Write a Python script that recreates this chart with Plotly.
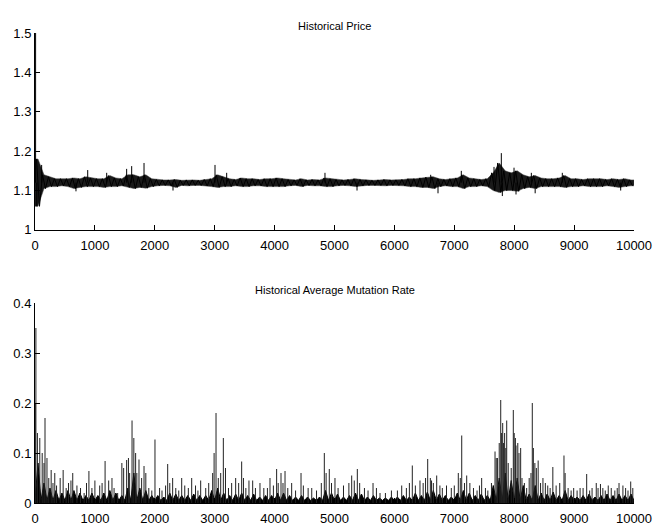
import plotly.graph_objects as go
from plotly.subplots import make_subplots

# ---------------- data ----------------
steps_max = 10000
bin_width = 100

# Historical price: per-100-step band (upper / lower) and isolated spikes
price_hi = [1.18, 1.14, 1.135, 1.13, 1.13, 1.13, 1.132, 1.13, 1.135, 1.132,
            1.13, 1.13, 1.138, 1.132, 1.13, 1.14, 1.14, 1.135, 1.14, 1.13,
            1.128, 1.127, 1.127, 1.128, 1.126, 1.127, 1.127, 1.126, 1.128, 1.13,
            1.14, 1.135, 1.13, 1.128, 1.132, 1.13, 1.13, 1.128, 1.13, 1.13,
            1.132, 1.13, 1.128, 1.127, 1.13, 1.127, 1.128, 1.127, 1.132, 1.13,
            1.128, 1.127, 1.128, 1.13, 1.128, 1.127, 1.126, 1.127, 1.128, 1.127,
            1.127, 1.128, 1.13, 1.13, 1.132, 1.134, 1.135, 1.13, 1.128, 1.13,
            1.132, 1.14, 1.132, 1.13, 1.128, 1.13, 1.145, 1.17, 1.15, 1.145,
            1.15, 1.14, 1.135, 1.138, 1.132, 1.13, 1.13, 1.132, 1.138, 1.13,
            1.13, 1.128, 1.13, 1.13, 1.13, 1.128, 1.13, 1.128, 1.13, 1.127]
price_lo = [1.06, 1.105, 1.11, 1.11, 1.112, 1.11, 1.105, 1.108, 1.11, 1.11,
            1.11, 1.108, 1.11, 1.11, 1.112, 1.108, 1.105, 1.108, 1.106, 1.11,
            1.112, 1.113, 1.112, 1.108, 1.113, 1.112, 1.113, 1.113, 1.112, 1.11,
            1.108, 1.11, 1.11, 1.112, 1.11, 1.11, 1.112, 1.112, 1.11, 1.11,
            1.11, 1.11, 1.112, 1.113, 1.11, 1.113, 1.112, 1.112, 1.11, 1.11,
            1.112, 1.113, 1.112, 1.11, 1.112, 1.113, 1.113, 1.113, 1.112, 1.113,
            1.113, 1.112, 1.11, 1.11, 1.108, 1.108, 1.105, 1.11, 1.112, 1.11,
            1.11, 1.105, 1.11, 1.11, 1.112, 1.11, 1.1, 1.095, 1.1, 1.1,
            1.098, 1.105, 1.108, 1.105, 1.11, 1.11, 1.11, 1.11, 1.108, 1.11,
            1.11, 1.112, 1.11, 1.11, 1.11, 1.112, 1.11, 1.108, 1.11, 1.112]
price_level = 1.12
price_spike_x = [10, 30, 111, 684, 880, 1197, 1530, 1614, 1820, 2304, 3005, 3200,
                 4841, 5376, 6606, 6728, 7117, 7663, 7785, 7802, 7997, 8030, 8286,
                 8350, 8803, 9778]
price_spike_y = [1.5, 1.06, 1.165, 1.098, 1.152, 1.145, 1.155, 1.162, 1.17, 1.10,
                 1.165, 1.145, 1.145, 1.10, 1.14, 1.093, 1.15, 1.16, 1.195, 1.086,
                 1.158, 1.09, 1.145, 1.093, 1.145, 1.10]

# Historical average mutation rate: dense floor per 100 steps, trough, needles
rate_floor = [0.08, 0.04, 0.03, 0.025, 0.02, 0.025, 0.025, 0.02, 0.015, 0.02,
              0.015, 0.02, 0.025, 0.02, 0.015, 0.03, 0.06, 0.03, 0.025, 0.015,
              0.015, 0.012, 0.02, 0.018, 0.015, 0.015, 0.018, 0.015, 0.015, 0.025,
              0.03, 0.02, 0.015, 0.018, 0.02, 0.015, 0.018, 0.012, 0.015, 0.015,
              0.02, 0.02, 0.015, 0.012, 0.015, 0.012, 0.01, 0.012, 0.025, 0.02,
              0.018, 0.012, 0.015, 0.02, 0.018, 0.012, 0.015, 0.01, 0.01, 0.012,
              0.012, 0.015, 0.012, 0.02, 0.015, 0.022, 0.025, 0.018, 0.015, 0.012,
              0.02, 0.025, 0.02, 0.015, 0.018, 0.015, 0.035, 0.05, 0.06, 0.045,
              0.05, 0.035, 0.018, 0.035, 0.02, 0.018, 0.022, 0.015, 0.025, 0.015,
              0.012, 0.015, 0.018, 0.012, 0.015, 0.018, 0.015, 0.018, 0.015, 0.018]
rate_trough = 0.005
rate_spike_x = [5, 15, 40, 80, 167, 200, 270, 330, 470, 630, 900, 1000, 1170, 1285,
                1450, 1530, 1620, 1650, 1736, 1820, 2003, 2215, 2298, 2449, 2616,
                2766, 2966, 3022, 3144, 3283, 3350, 3450, 3572, 3634, 3756, 3923,
                4034, 4107, 4174, 4285, 4441, 4620, 4830, 4913, 5008, 5287, 5381,
                5643, 6122, 6299, 6427, 6556, 6600, 6706, 6870, 7067, 7124, 7207,
                7457, 7680, 7720, 7775, 7808, 7840, 7875, 7985, 8030, 8060, 8108,
                8208, 8302, 8345, 8400, 8480, 8645, 8831, 8993, 9210, 9370, 9440,
                9570, 9750, 9815, 9945]
rate_spike_y = [0.2, 0.35, 0.14, 0.13, 0.17, 0.09, 0.066, 0.06, 0.066, 0.06, 0.064,
                0.045, 0.084, 0.05, 0.08, 0.086, 0.165, 0.13, 0.087, 0.074, 0.127,
                0.078, 0.05, 0.05, 0.05, 0.045, 0.06, 0.18, 0.13, 0.04, 0.05, 0.083,
                0.045, 0.045, 0.04, 0.05, 0.068, 0.06, 0.064, 0.04, 0.06, 0.03, 0.1,
                0.068, 0.05, 0.055, 0.068, 0.04, 0.035, 0.075, 0.045, 0.088, 0.05,
                0.055, 0.035, 0.06, 0.135, 0.055, 0.05, 0.103, 0.09, 0.206, 0.16,
                0.14, 0.165, 0.186, 0.115, 0.12, 0.11, 0.03, 0.2, 0.08, 0.085, 0.05,
                0.072, 0.095, 0.03, 0.058, 0.04, 0.038, 0.035, 0.04, 0.035, 0.043]
rate_minor_x = [120, 150, 230, 300, 360, 420, 520, 560, 600, 700, 760, 820, 860, 950,
                1080, 1120, 1230, 1320, 1380, 1480, 1560, 1580, 1680, 1700, 1780,
                1850, 1900, 1950, 2080, 2120, 2180, 2250, 2350, 2400, 2500, 2560,
                2680, 2720, 2850, 2900, 2990, 3060, 3100, 3180, 3230, 3400, 3480,
                3520, 3680, 3820, 3880, 3980, 4060, 4140, 4220, 4350, 4480, 4560,
                4700, 4780, 4860, 4950, 5060, 5150, 5240, 5330, 5420, 5500, 5560,
                5700, 5760, 5850, 5950, 6050, 6200, 6250, 6350, 6480, 6520, 6620,
                6650, 6760, 6800, 6950, 7000, 7100, 7170, 7260, 7320, 7380, 7420,
                7520, 7560, 7620, 7700, 7750, 7790, 7820, 7860, 7900, 7950, 8000,
                8020, 8080, 8130, 8170, 8250, 8280, 8320, 8370, 8440, 8520, 8560,
                8600, 8700, 8760, 8850, 8900, 8950, 9050, 9100, 9150, 9260, 9300,
                9400, 9480, 9520, 9620, 9680, 9720, 9860, 9900, 9980]
rate_minor_y = [0.1, 0.08, 0.05, 0.04, 0.035, 0.05, 0.03, 0.04, 0.045, 0.035, 0.03,
                0.02, 0.04, 0.03, 0.035, 0.04, 0.045, 0.03, 0.02, 0.07, 0.09, 0.06,
                0.1, 0.06, 0.05, 0.06, 0.03, 0.025, 0.03, 0.025, 0.035, 0.04, 0.03,
                0.025, 0.035, 0.03, 0.035, 0.025, 0.03, 0.04, 0.1, 0.05, 0.06, 0.07,
                0.03, 0.04, 0.05, 0.03, 0.03, 0.03, 0.03, 0.035, 0.04, 0.04, 0.03,
                0.025, 0.035, 0.03, 0.025, 0.04, 0.06, 0.04, 0.03, 0.035, 0.04,
                0.045, 0.04, 0.03, 0.025, 0.03, 0.02, 0.02, 0.025, 0.025, 0.03,
                0.04, 0.035, 0.04, 0.05, 0.045, 0.04, 0.035, 0.03, 0.03, 0.035,
                0.05, 0.04, 0.04, 0.03, 0.025, 0.035, 0.03, 0.025, 0.04, 0.09,
                0.12, 0.14, 0.12, 0.11, 0.08, 0.07, 0.14, 0.13, 0.1, 0.05, 0.04,
                0.05, 0.06, 0.11, 0.07, 0.04, 0.04, 0.035, 0.03, 0.035, 0.04, 0.06,
                0.03, 0.025, 0.025, 0.03, 0.03, 0.025, 0.03, 0.03, 0.03, 0.025,
                0.03, 0.025, 0.03, 0.03, 0.025, 0.03]

x_ticks = list(range(0, 10001, 1000))
price_ticks = [1, 1.1, 1.2, 1.3, 1.4, 1.5]
rate_ticks = [0, 0.1, 0.2, 0.3, 0.4]


def needles(xs, ys, base):
    nx, ny = [], []
    for x, y in zip(xs, ys):
        nx += [x, x, None]
        ny += [base, y, None]
    return nx, ny


def zigzag(a_vals, a_off, b_vals, b_off):
    zx, zy = [], []
    for i, (a, b) in enumerate(zip(a_vals, b_vals)):
        zx += [i * bin_width + a_off, i * bin_width + b_off]
        zy += [a, b]
    return zx, zy


# price band: polygon from upper values forward, lower values backward
bx = [i * bin_width + 50 for i in range(len(price_hi))]
band_x = [0] + bx + [steps_max, steps_max] + bx[::-1] + [0]
band_y = ([price_hi[0]] + price_hi + [price_hi[-1], price_lo[-1]]
          + price_lo[::-1] + [price_lo[0]])
zx_p, zy_p = zigzag(price_hi, 25, price_lo, 75)
pnx, pny = needles(price_spike_x, price_spike_y, price_level)

# rate floor (filled) and needles
fx, fy = zigzag([rate_trough] * len(rate_floor), 0, rate_floor, 50)
fx.append(steps_max)
fy.append(rate_trough)
rnx, rny = needles(rate_spike_x + rate_minor_x, rate_spike_y + rate_minor_y, 0)

fig = make_subplots(rows=2, cols=1)
fig.add_trace(go.Scatter(x=band_x, y=band_y, mode="lines", fill="toself",
                         fillcolor="#1a1a1a", line=dict(color="#444444", width=0.5)),
              row=1, col=1)
fig.add_trace(go.Scatter(x=zx_p, y=zy_p, mode="lines",
                         line=dict(color="black", width=1)), row=1, col=1)
fig.add_trace(go.Scatter(x=pnx, y=pny, mode="lines",
                         line=dict(color="black", width=1)), row=1, col=1)
fig.add_trace(go.Scatter(x=fx, y=fy, mode="lines", fill="tozeroy",
                         fillcolor="black", line=dict(color="black", width=1)),
              row=2, col=1)
fig.add_trace(go.Scatter(x=rnx, y=rny, mode="lines",
                         line=dict(color="#222222", width=1)), row=2, col=1)

font = dict(family="Liberation Sans, Arial, sans-serif", size=13, color="black")
axis_common = dict(showline=True, linecolor="black", linewidth=1, ticks="inside",
                   ticklen=5, tickcolor="black", showgrid=False, zeroline=False,
                   mirror=False, tickfont=font, layer="above traces",
                   automargin=False)

fig.update_xaxes(range=[0, steps_max], tickvals=x_ticks,
                 ticktext=[str(t) for t in x_ticks], ticklabelstandoff=3,
                 **axis_common)
fig.update_yaxes(range=[1, 1.5], tickvals=price_ticks,
                 ticktext=["1", "1.1", "1.2", "1.3", "1.4", "1.5"],
                 row=1, col=1, **axis_common)
fig.update_yaxes(range=[0, 0.4], tickvals=rate_ticks,
                 ticktext=["0", "0.1", "0.2", "0.3", "0.4"],
                 row=2, col=1, **axis_common)

fig.update_layout(
    width=654, height=525, autosize=False,
    margin=dict(l=35, r=20, t=33, b=22, autoexpand=False),
    paper_bgcolor="white", plot_bgcolor="white",
    showlegend=False,
    xaxis=dict(domain=[0, 1], anchor="y"),
    yaxis=dict(domain=[0.581, 1.0]),
    xaxis2=dict(domain=[0, 1], anchor="y2"),
    yaxis2=dict(domain=[0.0, 0.4255]),
    annotations=[
        dict(text="Historical Price", x=0.5, y=1.032, xref="paper", yref="paper",
             showarrow=False, font=dict(family=font["family"], size=11, color="black")),
        dict(text="Historical Average Mutation Rate", x=0.5, y=0.453,
             xref="paper", yref="paper", showarrow=False,
             font=dict(family=font["family"], size=11, color="black")),
    ],
)

fig.write_html("out.html", config={"displayModeBar": False},
               post_script="document.body.style.margin='0';")
